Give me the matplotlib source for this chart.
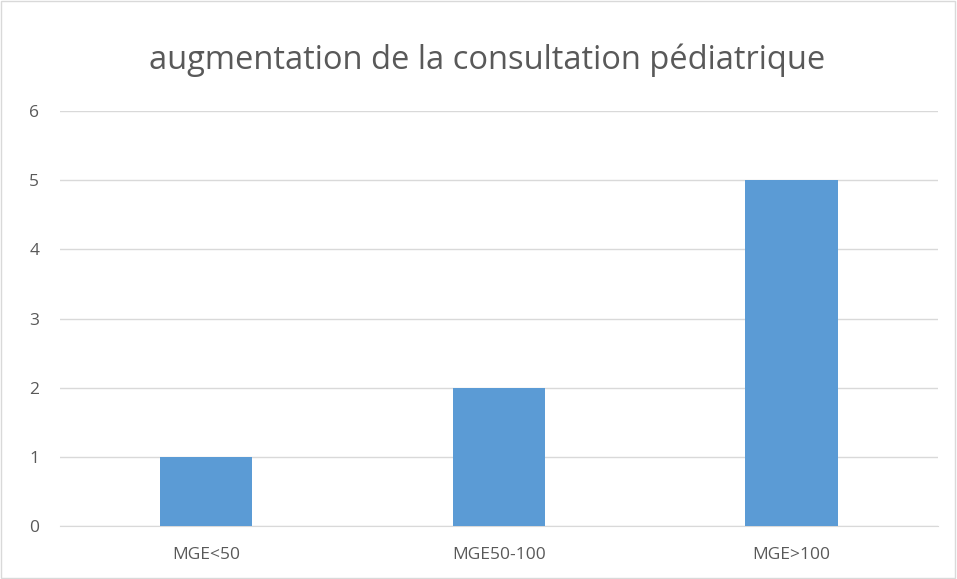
import numpy as np
import matplotlib.pyplot as plt

categories = ["MGE<50", "MGE50-100", "MGE>100"]
values = [1, 2, 5]
title = "augmentation de la consultation pédiatrique"

plt.rcParams['font.family'] = ['Open Sans', 'DejaVu Sans']

fig = plt.figure(figsize=(9.57, 5.79), dpi=100)
ax = fig.add_axes([0.0627, 0.0915, 0.9173, 0.7168])

x = np.arange(len(categories))
ax.bar(x, values, width=0.315, color='#5B9BD5', zorder=3)

ax.set_xlim(-0.5, 2.5)
ax.set_ylim(0, 6)
ax.set_yticks(range(0, 7))
ax.set_xticks(x)
ax.set_xticklabels(categories)
ax.grid(axis='y', color='#D9D9D9', linewidth=1, zorder=0)
for s in ['top', 'right', 'left']:
    ax.spines[s].set_visible(False)
ax.spines['bottom'].set_color('#D9D9D9')
ax.tick_params(axis='both', length=0, labelsize=12.5, colors='#595959')
ax.tick_params(axis='y', pad=15)
ax.tick_params(axis='x', pad=15)

fig.text(0.509, 0.896, title, ha='center', va='center', fontsize=23.5, color='#595959')

# outer frame
fig.patches.append(plt.Rectangle((0.001, 0.001), 0.997, 0.997, transform=fig.transFigure,
                                 fill=False, edgecolor='#D9D9D9', linewidth=1))

fig.savefig('out.png', dpi=100)
